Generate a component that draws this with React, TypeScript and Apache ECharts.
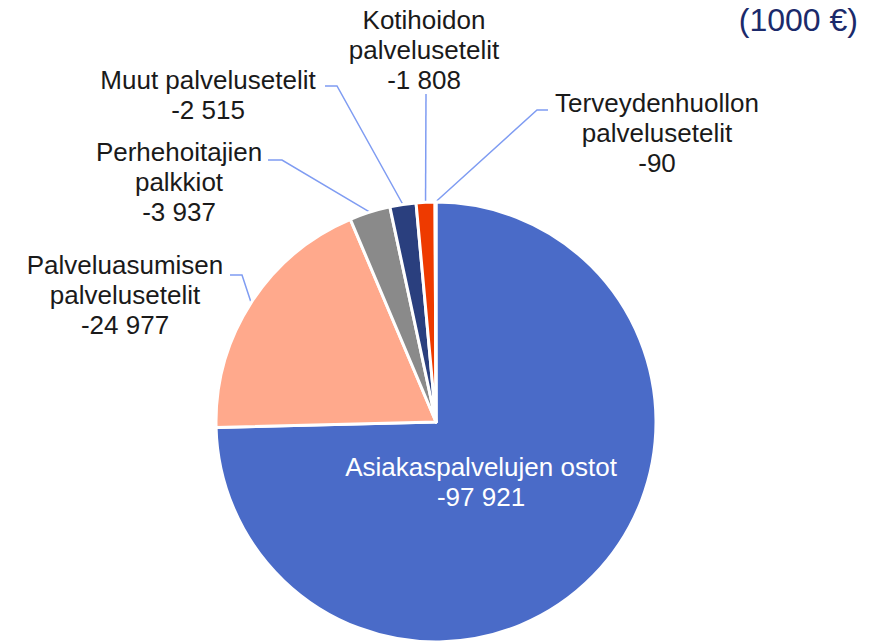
import React, { useEffect, useRef } from "react";
import * as echarts from "echarts";

const categories = [
  "Asiakaspalvelujen ostot",
  "Palveluasumisen\npalvelusetelit",
  "Perhehoitajien\npalkkiot",
  "Muut palvelusetelit",
  "Kotihoidon\npalvelusetelit",
  "Terveydenhuollon\npalvelusetelit",
];
const values = [-97921, -24977, -3937, -2515, -1808, -90];
const valueLabels = ["-97 921", "-24 977", "-3 937", "-2 515", "-1 808", "-90"];
const colors = ["#4A6BC8", "#FFA98C", "#8A8A8A", "#2A3F7E", "#EE3A00", "#A5B8E8"];
const unitLabel = "(1000 €)";

// label placement (layout only)
const labelPos: [number, number][] = [
  [481, 482],
  [125, 295],
  [179, 182],
  [208, 95],
  [424, 50],
  [657, 133],
];
const labelLineTail: ([number, number][] | null)[] = [
  null,
  [[242, 275], [230, 275]],
  [[282, 160], [268, 160]],
  [[337, 86], [325, 86]],
  [[426, 94]],
  [[537, 110], [548, 110]],
];

export default function App() {
  const ref = useRef<HTMLDivElement>(null);
  useEffect(() => {
    document.body.style.margin = "0";
    const chart = echarts.init(ref.current!, null, { renderer: "svg" });
    const font = "'Liberation Sans', Arial, sans-serif";
    chart.setOption({
      animation: false,
      backgroundColor: "#ffffff",
      graphic: [
        {
          type: "text",
          right: 20,
          top: 4,
          style: {
            text: unitLabel,
            fontSize: 32,
            fontFamily: font,
            fill: "#1B2A6B",
          },
        },
      ],
      series: [
        {
          type: "pie",
          center: [436, 422],
          radius: 220,
          startAngle: 90,
          clockwise: true,
          avoidLabelOverlap: false,
          itemStyle: { borderColor: "#ffffff", borderWidth: 3 },
          label: {
            show: true,
            position: "outside",
            fontSize: 26,
            lineHeight: 30,
            fontFamily: font,
            color: "#1a1a1a",
            align: "center",
            formatter: (p: any) => `${categories[p.dataIndex]}\n${valueLabels[p.dataIndex]}`,
          },
          labelLine: {
            show: true,
            lineStyle: { color: "#7F9CF2", width: 1.5 },
          },
          labelLayout: (params: any) => {
            const i = params.dataIndex;
            const res: any = {
              x: labelPos[i][0],
              y: labelPos[i][1],
              align: "center",
              verticalAlign: "middle",
            };
            const tail = labelLineTail[i];
            if (tail && params.labelLinePoints && params.labelLinePoints[0]) {
              const a = params.labelLinePoints[0];
              const pts = [[a[0], a[1]]];
              tail.forEach((t) => pts.push([t[0], t[1]]));
              res.labelLinePoints = pts;
            }
            return res;
          },
          data: values.map((v, i) => ({
            name: categories[i],
            value: Math.abs(v),
            itemStyle: { color: colors[i] },
            ...(i === 0
              ? {
                  label: { position: "inside", color: "#ffffff" },
                  labelLine: { show: false },
                }
              : {}),
          })),
        },
      ],
    });
    return () => chart.dispose();
  }, []);
  return <div ref={ref} style={{ width: 878, height: 641 }} />;
}
